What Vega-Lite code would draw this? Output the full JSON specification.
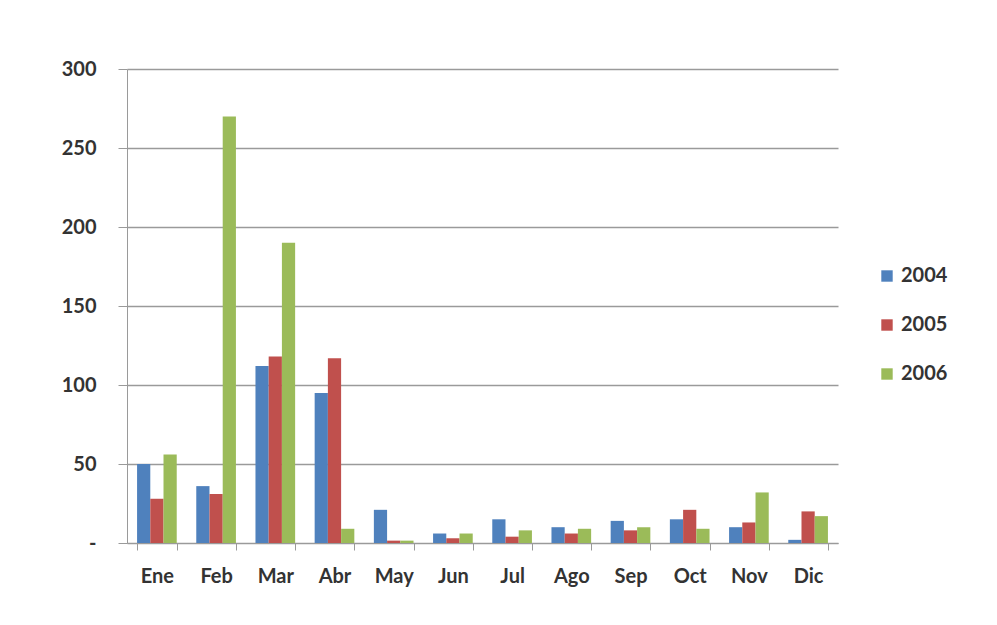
{
  "$schema": "https://vega.github.io/schema/vega-lite/v6.json",
  "width": 711,
  "height": 474,
  "autosize": "none",
  "padding": {"left": 127, "top": 69, "right": 159, "bottom": 82},
  "background": "white",
  "data": {"values": [
    {"mes": "Ene", "anio": "2004", "valor": 50},
    {"mes": "Ene", "anio": "2005", "valor": 28},
    {"mes": "Ene", "anio": "2006", "valor": 56},
    {"mes": "Feb", "anio": "2004", "valor": 36},
    {"mes": "Feb", "anio": "2005", "valor": 31},
    {"mes": "Feb", "anio": "2006", "valor": 270},
    {"mes": "Mar", "anio": "2004", "valor": 112},
    {"mes": "Mar", "anio": "2005", "valor": 118},
    {"mes": "Mar", "anio": "2006", "valor": 190},
    {"mes": "Abr", "anio": "2004", "valor": 95},
    {"mes": "Abr", "anio": "2005", "valor": 117},
    {"mes": "Abr", "anio": "2006", "valor": 9},
    {"mes": "May", "anio": "2004", "valor": 21},
    {"mes": "May", "anio": "2005", "valor": 1.5},
    {"mes": "May", "anio": "2006", "valor": 1.5},
    {"mes": "Jun", "anio": "2004", "valor": 6},
    {"mes": "Jun", "anio": "2005", "valor": 3},
    {"mes": "Jun", "anio": "2006", "valor": 6},
    {"mes": "Jul", "anio": "2004", "valor": 15},
    {"mes": "Jul", "anio": "2005", "valor": 4},
    {"mes": "Jul", "anio": "2006", "valor": 8},
    {"mes": "Ago", "anio": "2004", "valor": 10},
    {"mes": "Ago", "anio": "2005", "valor": 6},
    {"mes": "Ago", "anio": "2006", "valor": 9},
    {"mes": "Sep", "anio": "2004", "valor": 14},
    {"mes": "Sep", "anio": "2005", "valor": 8},
    {"mes": "Sep", "anio": "2006", "valor": 10},
    {"mes": "Oct", "anio": "2004", "valor": 15},
    {"mes": "Oct", "anio": "2005", "valor": 21},
    {"mes": "Oct", "anio": "2006", "valor": 9},
    {"mes": "Nov", "anio": "2004", "valor": 10},
    {"mes": "Nov", "anio": "2005", "valor": 13},
    {"mes": "Nov", "anio": "2006", "valor": 32},
    {"mes": "Dic", "anio": "2004", "valor": 2},
    {"mes": "Dic", "anio": "2005", "valor": 20},
    {"mes": "Dic", "anio": "2006", "valor": 17}
  ]},
  "mark": {"type": "bar"},
  "encoding": {
    "x": {
      "field": "mes", "type": "nominal",
      "sort": ["Ene","Feb","Mar","Abr","May","Jun","Jul","Ago","Sep","Oct","Nov","Dic"],
      "scale": {"paddingInner": 0.33, "paddingOuter": 0.17},
      "axis": {
        "title": null, "labelAngle": 0, "tickBand": "extent", "tickSize": 7,
        "labelPadding": 16, "domainColor": "#9a9a9a", "tickColor": "#9a9a9a",
        "labelFont": "Lato", "labelFontSize": 20, "labelFontWeight": "bold",
        "labelColor": "#333333", "grid": false
      }
    },
    "xOffset": {"field": "anio", "type": "nominal"},
    "y": {
      "field": "valor", "type": "quantitative",
      "scale": {"domain": [0, 300], "nice": false},
      "axis": {
        "title": null, "values": [0, 50, 100, 150, 200, 250, 300],
        "labelExpr": "datum.value == 0 ? '-' : datum.label",
        "tickSize": 9, "labelPadding": 22, "domainColor": "#9a9a9a", "tickColor": "#9a9a9a",
        "gridColor": "#9a9a9a", "gridWidth": 1.5,
        "labelFont": "Lato", "labelFontSize": 20, "labelFontWeight": "bold",
        "labelColor": "#333333"
      }
    },
    "color": {
      "field": "anio", "type": "nominal",
      "scale": {"domain": ["2004", "2005", "2006"], "range": ["#4F81BD", "#C0504D", "#9BBB59"]},
      "legend": {
        "title": null, "orient": "none", "legendX": 750, "legendY": 197,
        "symbolType": "square", "symbolSize": 130, "symbolStrokeWidth": 0,
        "labelFont": "Lato", "labelFontSize": 20, "labelFontWeight": "bold",
        "labelColor": "#333333", "rowPadding": 29, "labelOffset": 4
      }
    }
  },
  "config": {"view": {"stroke": null}}
}
